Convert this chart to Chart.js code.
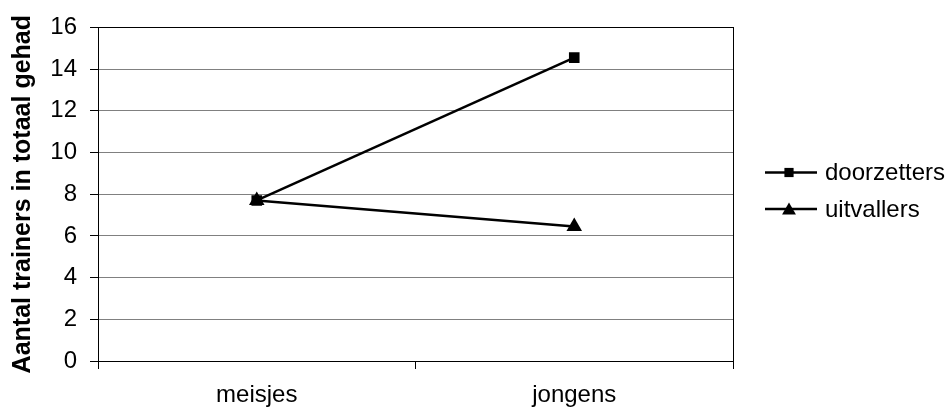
<!DOCTYPE html>
<html>
<head>
<meta charset="utf-8">
<script src="https://cdn.jsdelivr.net/npm/chart.js@4/dist/chart.umd.min.js"></script>
<style>
  html, body { margin: 0; padding: 0; background: #fff; }
  #wrap { width: 952px; height: 408px; }
</style>
</head>
<body>
<div id="wrap"><canvas id="chart-area" width="952" height="408"></canvas></div>
<script>
// data
var categories = ['meisjes', 'jongens'];
var doorzetters = [7.7, 14.55];
var uitvallers = [7.7, 6.45];
var yTicks = [0, 2, 4, 6, 8, 10, 12, 14, 16];
var yTitle = 'Aantal trainers in totaal gehad';

var font = 'Arial, "Liberation Sans", sans-serif';

// box round the plot area
var frame = {
  id: 'frame',
  beforeDatasetsDraw: function(chart) {
    var a = chart.chartArea, c = chart.ctx;
    c.save();
    c.strokeStyle = '#000';
    c.lineWidth = 1;
    c.strokeRect(Math.round(a.left) + 0.5, Math.round(a.top) + 0.5,
      Math.round(a.right - a.left), Math.round(a.bottom - a.top));
    c.restore();
  }
};

// legend with line + marker like the original
var sideLegend = {
  id: 'sideLegend',
  afterDraw: function(chart) {
    var c = chart.ctx;
    var rows = [172.5, 209];
    chart.data.datasets.forEach(function(ds, i) {
      var y = rows[i];
      c.save();
      c.strokeStyle = '#000';
      c.lineWidth = 2.5;
      c.beginPath();
      c.moveTo(765, y);
      c.lineTo(817, y);
      c.stroke();
      c.fillStyle = '#000';
      Chart.helpers.drawPoint(c, {pointStyle: ds.pointStyle, radius: ds.pointStyle === 'triangle' ? 8 : 6.5, borderWidth: 0}, 789, y + (ds.pointStyle === 'triangle' ? 1.5 : 0));
      c.fillStyle = '#000';
      c.font = '24px ' + font;
      c.textAlign = 'left';
      c.textBaseline = 'middle';
      c.fillText(ds.label, 825, y + 1);
      c.restore();
    });
  }
};

var ctx = document.getElementById('chart-area');
var myChart = new Chart(ctx, {
  type: 'line',
  data: {
    labels: categories,
    datasets: [
      {
        label: 'doorzetters',
        data: doorzetters,
        borderColor: '#000',
        backgroundColor: '#000',
        borderWidth: 2.5,
        pointStyle: 'rect',
        pointRadius: 7.5,
        pointBorderWidth: 0
      },
      {
        label: 'uitvallers',
        data: uitvallers,
        borderColor: '#000',
        backgroundColor: '#000',
        borderWidth: 2.5,
        pointStyle: 'triangle',
        pointRadius: 9,
        pointBorderWidth: 0
      }
    ]
  },
  options: {
    responsive: false,
    animation: false,
    layout: { padding: { left: 0, right: 219, top: 24, bottom: 0 } },
    plugins: { legend: { display: false }, tooltip: { enabled: false } },
    scales: {
      x: {
        offset: true,
        grid: { offset: true, drawOnChartArea: false, drawTicks: true, tickLength: 8, color: '#000', tickColor: '#000' },
        border: { color: '#000', width: 1 },
        ticks: { color: '#000', font: { family: font, size: 24 }, padding: 12, maxRotation: 0 },
        afterFit: function(s) { s.height = 47; }
      },
      y: {
        min: 0,
        max: 16,
        afterBuildTicks: function(s) { s.ticks = yTicks.map(function(v) { return {value: v}; }); },
        grid: { color: '#808080', tickColor: '#000', tickLength: 8, lineWidth: 1 },
        border: { color: '#000', width: 1 },
        ticks: { color: '#000', font: { family: font, size: 24 }, padding: 13 },
        title: { display: true, text: yTitle, color: '#000', font: { family: font, size: 25, weight: 'bold' }, padding: { top: 8, bottom: 0 } },
        afterFit: function(s) { s.width = 98; }
      }
    }
  },
  plugins: [frame, sideLegend]
});
</script>
</body>
</html>
